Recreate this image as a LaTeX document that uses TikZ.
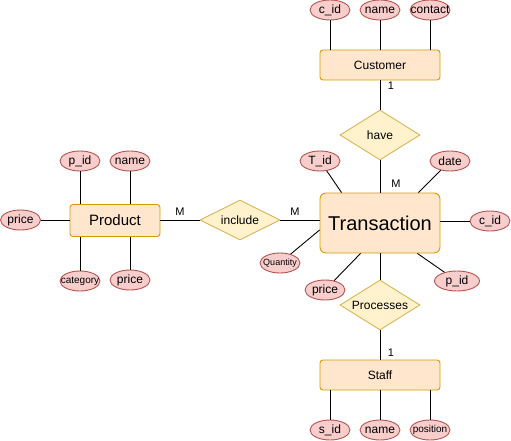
\documentclass[tikz,border=0pt]{standalone}
\usepackage{fontspec}
\setmainfont{Liberation Sans}
\usetikzlibrary{shapes.geometric, positioning}
\definecolor{entfill}{HTML}{FFE6CC}
\definecolor{entdraw}{HTML}{D79B00}
\definecolor{attfill}{HTML}{F8CECC}
\definecolor{attdraw}{HTML}{B85450}
\definecolor{relfill}{HTML}{FFF2CC}
\definecolor{reldraw}{HTML}{D6B656}

\begin{document}
\begin{tikzpicture}[
    x=1pt, y=-1pt, line width=0.9pt,
    font=\fontsize{12}{14}\selectfont,
    ent/.style={draw=entdraw, fill=entfill, rounded corners=3pt, minimum width=120pt, minimum height=30pt, inner sep=0pt},
    att/.style={ellipse, draw=attdraw, fill=attfill, minimum width=40pt, minimum height=20pt, inner sep=0pt, label={center:#1}},
    rel/.style={diamond, draw=reldraw, fill=relfill, minimum width=80pt, minimum height=50pt, inner sep=0pt, label={center:#1}},
    card/.style={font=\fontsize{11}{13}\selectfont, inner sep=0pt}
  ]
    \useasboundingbox (0,0) rectangle (511,441);

    \node[ent] (cust) at (380,65) {Customer};
    \node[att=c\_id] (ccid) at (330,10) {};
    \node[att=name] (cname) at (380,10) {};
    \node[att=contact] (ccon) at (430,10) {};
    \node[rel=have] (have) at (380,135) {};

    \node[ent, minimum height=60pt, rounded corners=6pt, font=\fontsize{20}{24}\selectfont] (tr) at (380,223) {Transaction};
    \node[att=T\_id] (tid) at (320,161) {};
    \node[att=date] (tdate) at (450,161) {};
    \node[att=c\_id] (tcid) at (490,221) {};
    \node[att={\fontsize{9}{10}\selectfont Quantity}] (tqty) at (280,263) {};
    \node[att=price] (tprice) at (325,290) {};
    \node[att=p\_id, minimum width=45pt] (tpid) at (457,281) {};

    \node[ent, minimum width=90pt, minimum height=32pt, font=\fontsize{15}{18}\selectfont] (prod) at (115,220.5) {Product};
    \node[att=p\_id] (pid) at (80,161) {};
    \node[att=name] (pname) at (130,161) {};
    \node[att=price] (pprice) at (20.5,220) {};
    \node[att={\fontsize{10}{12}\selectfont category}] (pcat) at (80,281) {};
    \node[att=price] (pprice2) at (130,280) {};
    \node[rel=include, minimum height=40pt] (inc) at (240,220) {};

    \node[rel=Processes] (proc) at (380,305) {};
    \node[ent] (staff) at (380,375) {Staff};
    \node[att=s\_id] (sid) at (330,430) {};
    \node[att=name] (sname) at (380,430) {};
    \node[att={\fontsize{10}{12}\selectfont position}] (spos) at (430,430) {};

    \draw (ccid) -- (ccid |- cust.north);
    \draw (cname) -- (cust);
    \draw (ccon) -- (ccon |- cust.north);
    \draw (cust) -- (have);
    \draw (have) -- (tr);

    \draw (tid) -- ([xshift=22pt]tr.north west);
    \draw (tdate) -- ([xshift=-22pt]tr.north east);
    \draw (tcid) -- (tcid -| tr.east);
    \draw (tqty) -- ([yshift=-7pt]tr.west);
    \draw (tprice) -- ([xshift=41pt]tr.south west);
    \draw (tpid) -- ([xshift=-23pt]tr.south east);
    \draw (tr) -- (proc);

    \draw (pid) -- (pid |- prod.north);
    \draw (pname) -- (pname |- prod.north);
    \draw (pprice) -- (pprice -| prod.west);
    \draw (pcat) -- (pcat |- prod.south);
    \draw (pprice2) -- (pprice2 |- prod.south);
    \draw (prod.east |- inc) -- (inc);
    \draw (inc) -- (inc -| tr.west);

    \draw (proc) -- (staff);
    \draw (sid) -- (sid |- staff.south);
    \draw (sname) -- (staff);
    \draw (spos) -- (spos |- staff.south);

    \node[card] at (180,212) {M};
    \node[card] at (295,212) {M};
    \node[card] at (396,184) {M};
    \node[card] at (391,86) {1};
    \node[card] at (391,353) {1};
  \end{tikzpicture}
\end{document}
